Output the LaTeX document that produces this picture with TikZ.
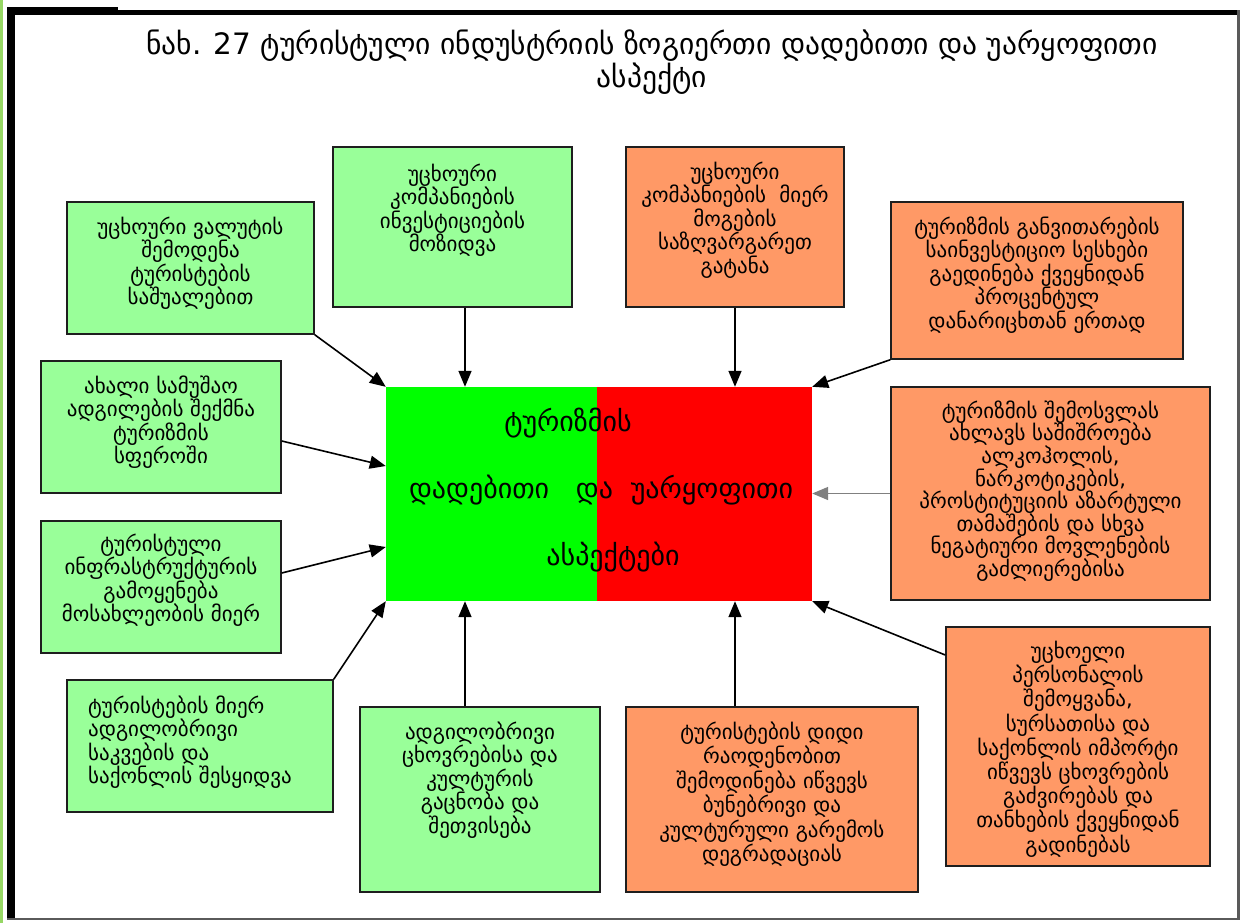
\documentclass[tikz,border=0pt]{standalone}
\usepackage{fontspec}
\setmainfont{DejaVu Sans}
\usetikzlibrary{arrows.meta,calc}
\definecolor{lgreen}{RGB}{153,255,153}
\definecolor{lorange}{RGB}{255,153,102}
\definecolor{cgreen}{RGB}{0,255,0}
\definecolor{cred}{RGB}{255,0,0}
\definecolor{edgec}{RGB}{30,30,30}
\definecolor{sliver}{RGB}{150,215,100}
\definecolor{framegray}{RGB}{90,90,90}
\begin{document}
\begin{tikzpicture}[x=1pt,y=-1pt,
  gbox/.style={draw=edgec, line width=1.5pt, fill=lgreen, inner sep=0pt},
  obox/.style={draw=edgec, line width=1.5pt, fill=lorange, inner sep=0pt},
  txt/.style={align=center, inner sep=0pt, font=\fontsize{21}{23.5}\selectfont, text=black},
  arr/.style={draw=black, line width=1.6pt, -{Triangle[length=16pt,width=13pt]}},
]
\useasboundingbox (0,0) rectangle (1243,923);
\fill[white] (0,0) rectangle (1243,923);
% frame
\fill[sliver] (0,0) rectangle (2.5,923);
\fill[black] (7,7) rectangle (15,919);
\fill[black] (7,7) rectangle (118,15);
\fill[black] (118,10) rectangle (1240,15);
\fill[framegray] (1237,10) rectangle (1240,920);
\fill[framegray] (7,917.5) rectangle (1240,920);

% title
\node[align=center, inner sep=0pt, font=\fontsize{29.5}{31}\selectfont] (title) at (652,62)
  {ნახ. 27 ტურისტული ინდუსტრიის ზოგიერთი დადებითი და უარყოფითი\\ასპექტი};

% boxes
\node[gbox, minimum width=247pt, minimum height=132pt] (g1) at (190.5,268) {};
\node[gbox, minimum width=239pt, minimum height=160pt] (g2) at (452.5,227) {};
\node[obox, minimum width=218pt, minimum height=160pt] (o1) at (735,227) {};
\node[obox, minimum width=292pt, minimum height=157pt] (o2) at (1037,280.5) {};
\node[gbox, minimum width=240pt, minimum height=132pt] (g3) at (161,427) {};
\node[gbox, minimum width=240pt, minimum height=132pt] (g4) at (161,587) {};
\node[obox, minimum width=319pt, minimum height=213pt] (o3) at (1050.5,493.5) {};
\node[gbox, minimum width=266pt, minimum height=132pt] (g5) at (200,746) {};
\node[gbox, minimum width=240pt, minimum height=185pt] (g6) at (480,799.5) {};
\node[obox, minimum width=292pt, minimum height=185pt] (o4) at (772,799.5) {};
\node[obox, minimum width=264pt, minimum height=239pt] (o5) at (1078,746.5) {};

% centre
\node[fill=cred, inner sep=0pt, minimum width=426pt, minimum height=214pt] (c) at (599,494) {};
\fill[cgreen] (c.north west) rectangle ([xshift=-2pt]c.south);

% texts
\node[txt] (t1) at (190.5,263) {უცხოური ვალუტის\\შემოდენა\\ტურისტების\\საშუალებით};
\node[txt] (t2) at (452.5,210) {უცხოური\\კომპანიების\\ინვესტიციების\\მოზიდვა};
\node[txt] (t3) at (735,220) {უცხოური\\კომპანიების \ მიერ\\მოგების\\საზღვარგარეთ\\გატანა};
\node[txt] (t4) at (1037,275) {ტურიზმის განვითარების\\საინვესტიციო სესხები\\გაედინება ქვეყნიდან\\პროცენტულ\\დანარიცხთან ერთად};
\node[txt] (t5) at (161,422) {ახალი სამუშაო\\ადგილების შექმნა\\ტურიზმის\\სფეროში};
\node[txt] (t6) at (161,580) {ტურისტული\\ინფრასტრუქტურის\\გამოყენება\\მოსახლეობის მიერ};
\node[txt, font=\fontsize{21}{22.6}\selectfont] (t7) at (1050.5,491) {ტურიზმის შემოსვლას\\ახლავს საშიშროება\\ალკოჰოლის,\\ნარკოტიკების,\\პროსტიტუციის აზარტული\\თამაშების და სხვა\\ნეგატიური მოვლენების\\გაძლიერებისა};
\node[txt, align=left, anchor=west] (t8) at (88,742) {ტურისტების მიერ\\ადგილობრივი\\საკვების და\\საქონლის შესყიდვა};
\node[txt] (t9) at (480,780) {ადგილობრივი\\ცხოვრებისა და\\კულტურის\\გაცნობა და\\შეთვისება};
\node[txt, font=\fontsize{21}{24.5}\selectfont] (t10) at (772,794) {ტურისტების დიდი\\რაოდენობით\\შემოდინება იწვევს\\ბუნებრივი და\\კულტურული გარემოს\\დეგრადაციას};
\node[txt, font=\fontsize{21}{24.2}\selectfont] (t11) at (1078,749) {უცხოელი\\პერსონალის\\შემოყვანა,\\სურსათისა და\\საქონლის იმპორტი\\იწვევს ცხოვრების\\გაძვირებას და\\თანხების ქვეყნიდან\\გადინებას};
\node[align=center, inner sep=0pt, font=\fontsize{28}{67}\selectfont] (tc) at (601,490)
  {ტურიზმის\hspace*{66pt}\\დადებითი \ \ და \ უარყოფითი\\\hspace*{24pt}ასპექტები};

% connectors
\draw[arr] (g1.south east) -- (c.north west);
\draw[arr] ([xshift=12.5pt]g2.south) -- ([xshift=12.5pt]g2.south |- c.north);
\draw[arr] ([yshift=-14pt]g3.east) -- ([yshift=28pt]c.west);
\draw[arr] ([yshift=14pt]g4.east) -- ([yshift=-53pt]c.west);
\draw[arr] (g5.north east) -- (c.south west);
\draw[arr] ([xshift=-15pt]g6.north) -- ([xshift=-15pt]g6.north |- c.south);
\draw[arr] (o1.south) -- (o1.south |- c.north);
\draw[arr] ([xshift=-37pt]o4.north) -- ([xshift=-37pt]o4.north |- c.south);
\draw[arr] (o2.south west) -- (c.north east);
\draw[arr, draw=gray] (o3.west) -- (c.east |- o3.west);
\draw[arr] ([yshift=91.5pt]o5.west) -- (c.south east);
\end{tikzpicture}
\end{document}
